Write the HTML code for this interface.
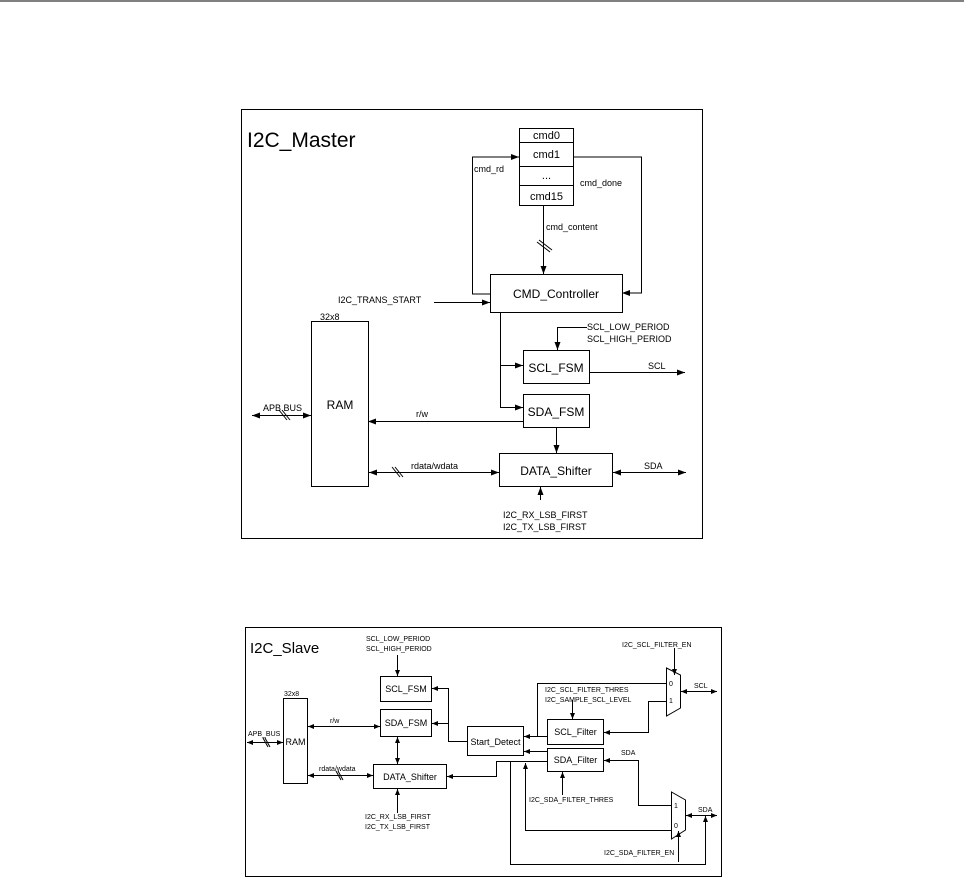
<!DOCTYPE html>
<html><head><meta charset="utf-8"><style>
html,body{margin:0;padding:0;background:#fff;}
svg{display:block;}
text{font-family:"Liberation Sans",sans-serif;fill:#000;}
</style></head><body>
<svg width="964" height="880" viewBox="0 0 964 880" xmlns="http://www.w3.org/2000/svg">
<defs>
<marker id="a" markerWidth="8" markerHeight="6" refX="8" refY="3" orient="auto" markerUnits="userSpaceOnUse"><path d="M0,0 L8,3 L0,6 z" fill="#000"/></marker>
<marker id="b" markerWidth="8" markerHeight="6" refX="0" refY="3" orient="auto" markerUnits="userSpaceOnUse"><path d="M8,0 L0,3 L8,6 z" fill="#000"/></marker>
<marker id="s" markerWidth="6" markerHeight="5" refX="6" refY="2.5" orient="auto" markerUnits="userSpaceOnUse"><path d="M0,0 L6,2.5 L0,5 z" fill="#000"/></marker>
<marker id="sb" markerWidth="6" markerHeight="5" refX="0" refY="2.5" orient="auto" markerUnits="userSpaceOnUse"><path d="M6,0 L0,2.5 L6,5 z" fill="#000"/></marker>
</defs>
<line x1="0" y1="1" x2="964" y2="1" stroke="#000" stroke-width="1"/>
<g fill="none" stroke="#000" stroke-width="1">
<rect x="241.5" y="109.5" width="461" height="429"/>
<rect x="519.5" y="128.5" width="54" height="14"/>
<rect x="519.5" y="142.5" width="54" height="24"/>
<rect x="519.5" y="166.5" width="54" height="19"/>
<rect x="519.5" y="185.5" width="54" height="20"/>
<rect x="490.5" y="274.5" width="132" height="38"/>
<rect x="311.5" y="321.5" width="57" height="165"/>
<rect x="523.5" y="350.5" width="66" height="33"/>
<rect x="523.5" y="394.5" width="66" height="33"/>
<rect x="499.5" y="453.5" width="113" height="33"/>
<polyline points="490,294 472.5,294 472.5,157 519,157" marker-end="url(#a)"/>
<polyline points="574,157 641.5,157 641.5,293 622,293" marker-end="url(#a)"/>
<line x1="543.5" y1="206" x2="543.5" y2="274" marker-end="url(#a)"/>
<line x1="537" y1="242" x2="550" y2="252"/><line x1="539" y1="240" x2="552" y2="250"/>
<line x1="434" y1="302.5" x2="490" y2="302.5" marker-end="url(#a)"/>
<line x1="252" y1="415.5" x2="311" y2="415.5" marker-start="url(#b)" marker-end="url(#a)"/>
<line x1="279" y1="410" x2="287" y2="420"/><line x1="282" y1="410" x2="290" y2="420"/>
<polyline points="500.5,313 500.5,407.5 523,407.5" marker-end="url(#a)"/>
<line x1="500.5" y1="365.5" x2="523" y2="365.5" marker-end="url(#a)"/>
<polyline points="587,327.5 557.5,327.5 557.5,350" marker-end="url(#a)"/>
<line x1="590" y1="372.5" x2="685" y2="372.5" marker-end="url(#a)"/>
<line x1="523" y1="421.5" x2="368" y2="421.5" marker-end="url(#a)"/>
<line x1="556.5" y1="428" x2="556.5" y2="453" marker-end="url(#a)"/>
<line x1="369" y1="472.5" x2="499" y2="472.5" marker-start="url(#b)" marker-end="url(#a)"/>
<line x1="392" y1="467" x2="400" y2="477"/><line x1="395" y1="467" x2="403" y2="477"/>
<line x1="613" y1="472.5" x2="686" y2="472.5" marker-start="url(#b)" marker-end="url(#a)"/>
<line x1="540.5" y1="500" x2="540.5" y2="487" marker-end="url(#a)"/>
</g>
<text x="247" y="147" font-size="21">I2C_Master</text>
<g font-size="11" text-anchor="middle">
<text x="546.5" y="139">cmd0</text><text x="546.5" y="158">cmd1</text>
<text x="546.5" y="179">...</text><text x="546.5" y="200">cmd15</text>
<text x="556" y="298" font-size="12">CMD_Controller</text>
<text x="340" y="409" font-size="12">RAM</text>
<text x="556" y="372" font-size="12">SCL_FSM</text>
<text x="556" y="416" font-size="12">SDA_FSM</text>
<text x="556" y="475" font-size="12">DATA_Shifter</text>
</g>
<g font-size="9">
<text x="474" y="172">cmd_rd</text>
<text x="580" y="186">cmd_done</text>
<text x="546" y="230">cmd_content</text>
<text x="338" y="303">I2C_TRANS_START</text>
<text x="320" y="320">32x8</text>
<text x="587" y="330">SCL_LOW_PERIOD</text>
<text x="587" y="342">SCL_HIGH_PERIOD</text>
<text x="648" y="369">SCL</text>
<text x="263" y="411">APB BUS</text>
<text x="416" y="417">r/w</text>
<text x="411" y="469">rdata/wdata</text>
<text x="644" y="469">SDA</text>
<text x="503" y="518">I2C_RX_LSB_FIRST</text>
<text x="503" y="530">I2C_TX_LSB_FIRST</text>
</g>

<g fill="none" stroke="#000" stroke-width="1">
<rect x="245.5" y="627.5" width="476" height="249"/>
<rect x="380.5" y="676.5" width="51" height="25"/>
<rect x="380.5" y="709.5" width="51" height="27"/>
<rect x="283.5" y="698.5" width="24" height="85"/>
<rect x="373.5" y="764.5" width="73" height="24"/>
<rect x="467.5" y="726.5" width="56" height="29"/>
<rect x="547.5" y="719.5" width="56" height="25"/>
<rect x="547.5" y="748.5" width="56" height="23"/>
<polygon points="666.5,668 680.5,675 680.5,708 666.5,716"/>
<polygon points="671.5,792 685.5,800 685.5,830 671.5,839"/>
<line x1="397.5" y1="655" x2="397.5" y2="676" marker-end="url(#s)"/>
<line x1="247" y1="742.5" x2="283" y2="742.5" marker-start="url(#sb)" marker-end="url(#s)"/>
<line x1="263" y1="738" x2="268" y2="747"/><line x1="265" y1="738" x2="270" y2="747"/>
<line x1="308" y1="726.5" x2="380" y2="726.5" marker-start="url(#sb)" marker-end="url(#s)"/>
<line x1="308" y1="775.5" x2="373" y2="775.5" marker-start="url(#sb)" marker-end="url(#s)"/>
<line x1="336" y1="771" x2="341" y2="780"/><line x1="338" y1="771" x2="343" y2="780"/>
<line x1="397.5" y1="737" x2="397.5" y2="764" marker-start="url(#sb)" marker-end="url(#s)"/>
<line x1="397.5" y1="813" x2="397.5" y2="789" marker-end="url(#s)"/>
<polyline points="467,741.5 448.5,741.5 448.5,688.5 432,688.5" marker-end="url(#s)"/>
<line x1="448.5" y1="723.5" x2="432" y2="723.5" marker-end="url(#s)"/>
<line x1="547" y1="736.5" x2="524" y2="736.5" marker-end="url(#s)"/>
<line x1="547" y1="751.5" x2="524" y2="751.5" marker-end="url(#s)"/>
<polyline points="666,683.5 537.5,683.5 537.5,736.5"/>
<line x1="572.5" y1="700" x2="572.5" y2="719" marker-end="url(#s)"/>
<line x1="674.5" y1="648" x2="674.5" y2="675" marker-end="url(#s)"/>
<line x1="681" y1="691.5" x2="717" y2="691.5" marker-start="url(#sb)" marker-end="url(#s)"/>
<polyline points="666,701.5 648.5,701.5 648.5,732.5 604,732.5" marker-end="url(#s)"/>
<polyline points="671,805.5 638.5,805.5 638.5,760.5 604,760.5" marker-end="url(#s)"/>
<line x1="562.5" y1="795" x2="562.5" y2="772" marker-end="url(#s)"/>
<polyline points="671,830.5 525.5,830.5 525.5,763" marker-end="url(#s)"/>
<polyline points="547,761.5 496.5,761.5 496.5,776.5 447,776.5" marker-end="url(#s)"/>
<polyline points="510.5,761.5 510.5,864.5 705.5,864.5 705.5,816" marker-end="url(#s)"/>
<line x1="686" y1="815.5" x2="717" y2="815.5" marker-start="url(#sb)" marker-end="url(#s)"/>
<line x1="678.5" y1="862" x2="678.5" y2="831" marker-end="url(#s)"/>
</g>
<text x="250" y="653" font-size="15">I2C_Slave</text>
<g font-size="9" text-anchor="middle">
<text x="406" y="692">SCL_FSM</text>
<text x="406" y="726">SDA_FSM</text>
<text x="295.5" y="745">RAM</text>
<text x="410" y="780">DATA_Shifter</text>
<text x="495.5" y="745">Start_Detect</text>
<text x="575.5" y="735">SCL_Filter</text>
<text x="575.5" y="763">SDA_Filter</text>
</g>
<g font-size="7">
<text x="366" y="641">SCL_LOW_PERIOD</text>
<text x="366" y="651">SCL_HIGH_PERIOD</text>
<text x="284" y="696">32x8</text>
<text x="248" y="736">APB_BUS</text>
<text x="330" y="723">r/w</text>
<text x="319" y="771">rdata/wdata</text>
<text x="365" y="819">I2C_RX_LSB_FIRST</text>
<text x="365" y="829">I2C_TX_LSB_FIRST</text>
<text x="622" y="647">I2C_SCL_FILTER_EN</text>
<text x="545" y="692">I2C_SCL_FILTER_THRES</text>
<text x="545" y="702">I2C_SAMPLE_SCL_LEVEL</text>
<text x="669" y="686">0</text>
<text x="669" y="703">1</text>
<text x="694" y="688">SCL</text>
<text x="621" y="755">SDA</text>
<text x="529" y="802">I2C_SDA_FILTER_THRES</text>
<text x="674" y="808">1</text>
<text x="674" y="828">0</text>
<text x="698" y="812">SDA</text>
<text x="604" y="855">I2C_SDA_FILTER_EN</text>
</g>
</svg>
</body></html>
